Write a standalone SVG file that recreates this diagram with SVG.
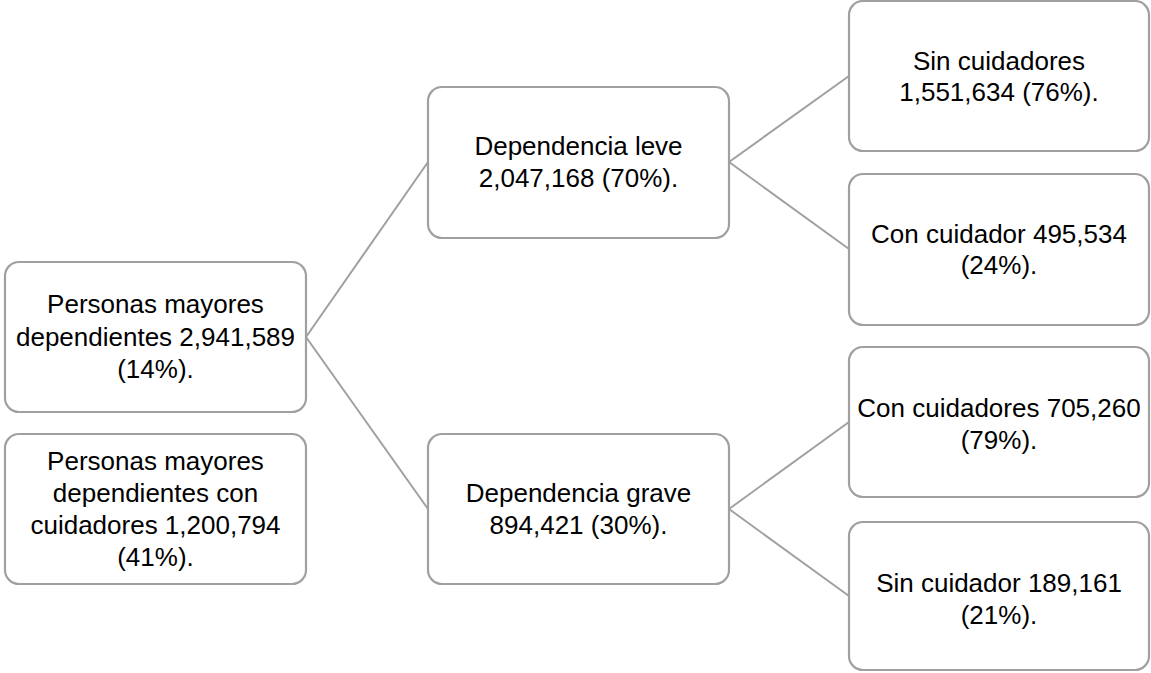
<svg xmlns="http://www.w3.org/2000/svg" width="1151" height="673" viewBox="0 0 1151 673">
<style>
.box{fill:#fff;stroke:#a0a0a0;stroke-width:2.2}
.lbl{font-family:"Liberation Sans",Arial,sans-serif;font-size:26px;fill:#000;text-anchor:middle}
.conn{stroke:#a0a0a0;stroke-width:2;fill:none}
</style>
<rect width="1151" height="673" fill="#fff"/>
<g id="connectors">
<line class="conn" x1="306" y1="337" x2="428" y2="162"/>
<line class="conn" x1="306" y1="337" x2="428" y2="509"/>
<line class="conn" x1="729" y1="162" x2="849" y2="76"/>
<line class="conn" x1="729" y1="162" x2="849" y2="249"/>
<line class="conn" x1="729" y1="509" x2="849" y2="422"/>
<line class="conn" x1="729" y1="509" x2="849" y2="596"/>
</g>
<g id="n-total">
<rect class="box" x="5" y="262" width="301" height="150" rx="14"/>
<text class="lbl" x="155.5" y="313">Personas mayores</text>
<text class="lbl" x="155.5" y="346">dependientes 2,941,589</text>
<text class="lbl" x="155.5" y="378">(14%).</text>
</g>
<g id="n-cuidadores">
<rect class="box" x="5" y="434" width="301" height="150" rx="14"/>
<text class="lbl" x="155.5" y="470">Personas mayores</text>
<text class="lbl" x="155.5" y="502">dependientes con</text>
<text class="lbl" x="155.5" y="534">cuidadores 1,200,794</text>
<text class="lbl" x="155.5" y="566">(41%).</text>
</g>
<g id="n-leve">
<rect class="box" x="428" y="87" width="301" height="151" rx="14"/>
<text class="lbl" x="578.5" y="155">Dependencia leve</text>
<text class="lbl" x="578.5" y="187">2,047,168 (70%).</text>
</g>
<g id="n-grave">
<rect class="box" x="428" y="434" width="301" height="150" rx="14"/>
<text class="lbl" x="578.5" y="502">Dependencia grave</text>
<text class="lbl" x="578.5" y="534">894,421 (30%).</text>
</g>
<g id="n-leve-sin">
<rect class="box" x="849" y="1" width="300" height="150" rx="14"/>
<text class="lbl" x="999" y="70">Sin cuidadores</text>
<text class="lbl" x="999" y="101">1,551,634 (76%).</text>
</g>
<g id="n-leve-con">
<rect class="box" x="849" y="174" width="300" height="151" rx="14"/>
<text class="lbl" x="999" y="243">Con cuidador 495,534</text>
<text class="lbl" x="999" y="274">(24%).</text>
</g>
<g id="n-grave-con">
<rect class="box" x="849" y="347" width="300" height="150" rx="14"/>
<text class="lbl" x="999" y="417">Con cuidadores 705,260</text>
<text class="lbl" x="999" y="449">(79%).</text>
</g>
<g id="n-grave-sin">
<rect class="box" x="849" y="522" width="300" height="148" rx="14"/>
<text class="lbl" x="999" y="592">Sin cuidador 189,161</text>
<text class="lbl" x="999" y="624">(21%).</text>
</g>
</svg>
